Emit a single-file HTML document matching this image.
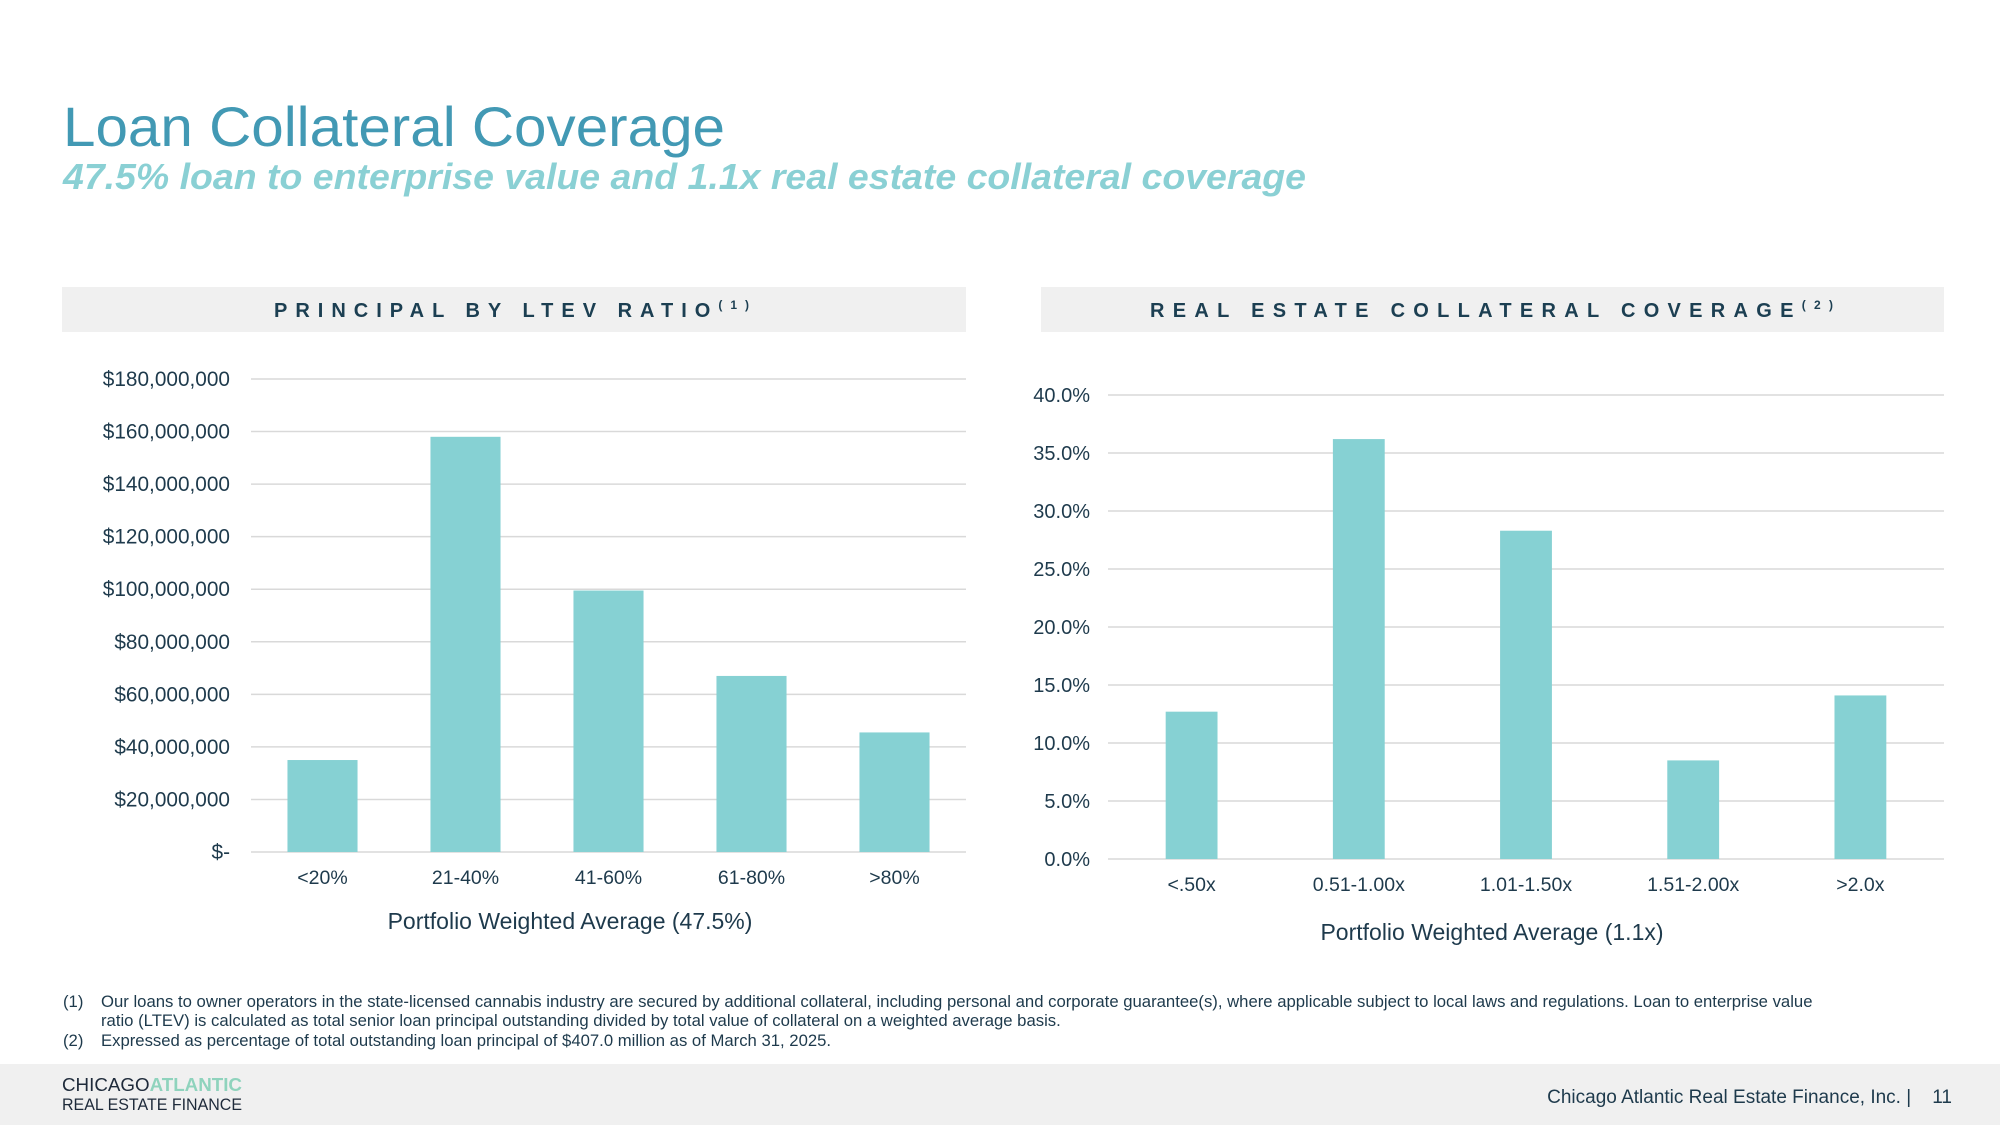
<!DOCTYPE html>
<html><head><meta charset="utf-8">
<style>
html,body{margin:0;padding:0;background:#fff;}
svg{display:block;font-family:"Liberation Sans",Arial,sans-serif;}
</style></head>
<body>
<svg id="s" width="2000" height="1125" viewBox="0 0 2000 1125" xmlns="http://www.w3.org/2000/svg">
<text x="63" y="146" font-size="56" fill="#4299b4" textLength="662" lengthAdjust="spacingAndGlyphs">Loan Collateral Coverage</text>
<text x="63" y="189" font-size="36" font-weight="bold" font-style="italic" fill="#8ad0d4" textLength="1243" lengthAdjust="spacingAndGlyphs">47.5% loan to enterprise value and 1.1x real estate collateral coverage</text>

<rect x="62" y="287" width="904" height="45" fill="#f0f0f0"/>
<text x="274" y="317" font-size="20" font-weight="bold" fill="#1c3f52" textLength="475" lengthAdjust="spacing">PRINCIPAL BY LTEV RATIO<tspan font-size="12" dy="-8">(1)</tspan></text>
<rect x="1041" y="287" width="903" height="45" fill="#f0f0f0"/>
<text x="1150" y="317" font-size="20" font-weight="bold" fill="#1c3f52" textLength="683" lengthAdjust="spacing">REAL ESTATE COLLATERAL COVERAGE<tspan font-size="12" dy="-8">(2)</tspan></text>

<g id="left"></g>
<g id="right"></g>

<g font-size="16.7" fill="#1e3a4c">
<text x="63" y="1007">(1)</text>
<text x="101" y="1007">Our loans to owner operators in the state-licensed cannabis industry are secured by additional collateral, including personal and corporate guarantee(s), where applicable subject to local laws and regulations. Loan to enterprise value</text>
<text x="101" y="1026">ratio (LTEV) is calculated as total senior loan principal outstanding divided by total value of collateral on a weighted average basis.</text>
<text x="63" y="1046">(2)</text>
<text x="101" y="1046">Expressed as percentage of total outstanding loan principal of $407.0 million as of March 31, 2025.</text>
</g>

<rect x="0" y="1064" width="2000" height="61" fill="#f0f0f0"/>
<g>
<text x="62" y="1091" font-size="18" fill="#1e2a3a" textLength="180" lengthAdjust="spacingAndGlyphs">CHICAGO<tspan fill="#8fd3bd" font-weight="bold">ATLANTIC</tspan></text>
<text x="62" y="1110" font-size="17" fill="#1e2a3a" textLength="180" lengthAdjust="spacingAndGlyphs">REAL ESTATE FINANCE</text>
</g>
<text x="1952" y="1103" font-size="19" fill="#1e3a4c" text-anchor="end" xml:space="preserve">Chicago Atlantic Real Estate Finance, Inc. |    11</text>
</svg>
<script>
const ltevCategories = ["<20%","21-40%","41-60%","61-80%",">80%"];
const ltevValues = [35000000,158000000,99500000,67000000,45500000];
const ltevTicks = [0,20000000,40000000,60000000,80000000,100000000,120000000,140000000,160000000,180000000];
const covCategories = ["<.50x","0.51-1.00x","1.01-1.50x","1.51-2.00x",">2.0x"];
const covValues = [12.7,36.2,28.3,8.5,14.1];
const covTicks = [0,5,10,15,20,25,30,35,40];

const NS="http://www.w3.org/2000/svg";
function mk(parent,tag,attrs,text){const e=document.createElementNS(NS,tag);for(const k in attrs)e.setAttribute(k,attrs[k]);if(text!==undefined)e.textContent=text;parent.appendChild(e);return e;}

function drawChart(g,cfg){
  const yScale=v=>cfg.y0-(v-cfg.min)/(cfg.max-cfg.min)*(cfg.y0-cfg.y1);
  const band=(cfg.x1-cfg.x0)/cfg.cats.length;
  cfg.ticks.forEach(t=>{
    const y=yScale(t);
    const ln=mk(g,'line',{x1:cfg.x0,x2:cfg.x1,y1:y,y2:y,stroke:'#d9d9d9','stroke-width':1.5});
    
    
    const tx=mk(g,'text',{x:cfg.labelX,y:y+7,'font-size':cfg.tickSize,fill:'#1e3a4c','text-anchor':'end'},cfg.fmt(t));
    
    
  });
  cfg.cats.forEach((c,i)=>{
    const cx=cfg.x0+band*(i+0.5);
    const w=band*cfg.bw;
    const y=yScale(cfg.vals[i]);
    const r=mk(g,'rect',{x:cx-w/2,y:y,width:w,height:yScale(cfg.min)-y,fill:'#86d1d3'});
    
    
    const tx=mk(g,'text',{x:cx,y:cfg.catY,'font-size':19.5,fill:'#1e3a4c','text-anchor':'middle'},c);
    
    
  });
  const at=mk(g,'text',{x:cfg.titleX,y:cfg.titleY,'font-size':23,fill:'#1e3a4c','text-anchor':'middle'},cfg.title);
  
  
}
function money(v){return v===0?'$-':'$'+v.toLocaleString('en-US');}
drawChart(document.getElementById('left'),{cats:ltevCategories,vals:ltevValues,ticks:ltevTicks,min:0,max:180000000,x0:251,x1:966,y0:852,y1:379,labelX:230,bw:0.49,catY:884,titleX:570,titleY:929,tickSize:20.8,fmt:money,title:'Portfolio Weighted Average (47.5%)'});
drawChart(document.getElementById('right'),{cats:covCategories,vals:covValues,ticks:covTicks,min:0,max:40,x0:1108,x1:1944,y0:859,y1:395,labelX:1090,bw:0.31,catY:891,titleX:1492,titleY:940,tickSize:20,fmt:v=>v.toFixed(1)+'%',title:'Portfolio Weighted Average (1.1x)'});
</script>
</body></html>
